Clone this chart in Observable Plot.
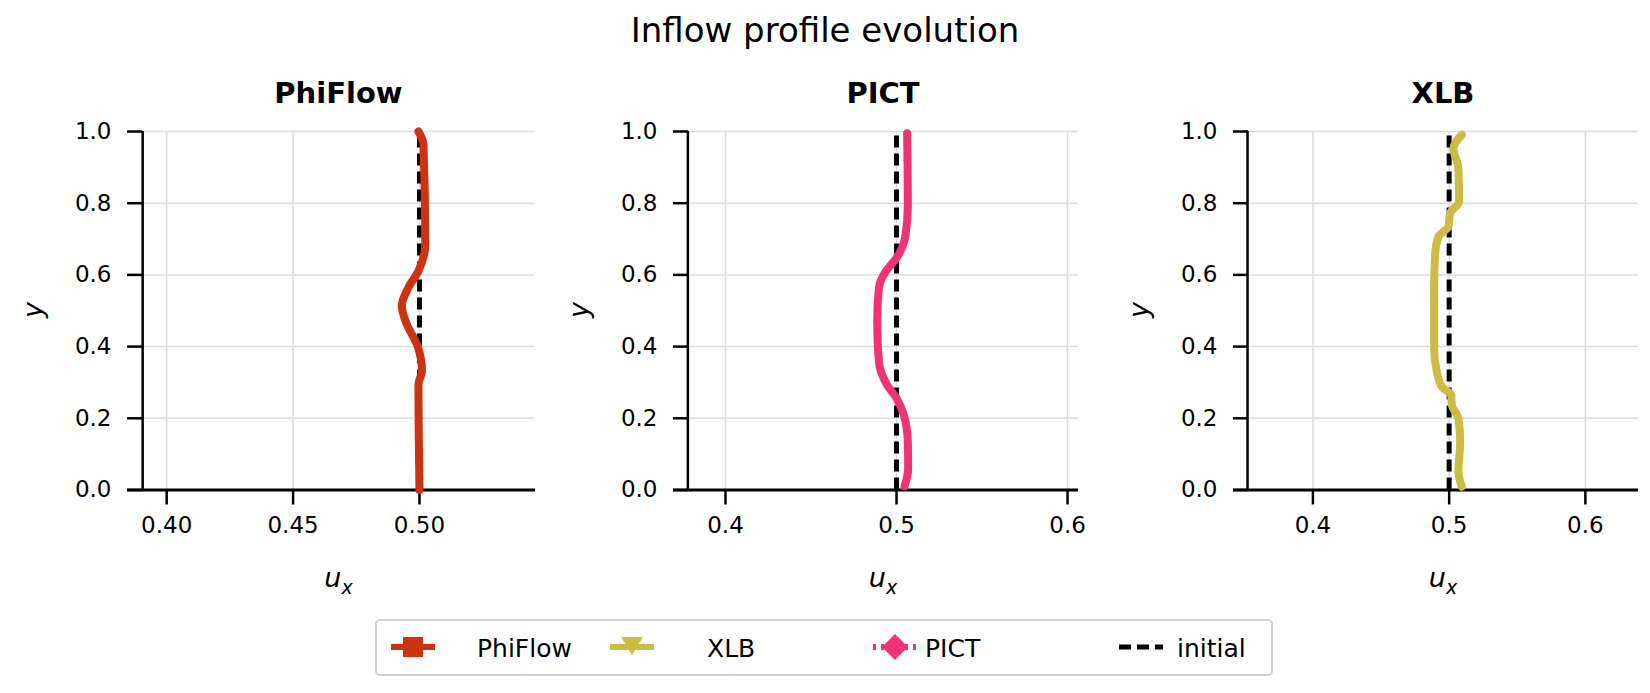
<!DOCTYPE html>
<html><head><meta charset="utf-8">
<script src="https://cdn.jsdelivr.net/npm/d3@7"></script>
<script src="https://cdn.jsdelivr.net/npm/@observablehq/plot@0.6"></script>
<style>
body{margin:0;background:#fff;font-family:"DejaVu Sans",sans-serif;}
#c{position:relative;width:1650px;height:693px;overflow:hidden;}
#c svg text{font-size:23px !important;font-family:"DejaVu Sans",sans-serif;}
.abs{position:absolute;white-space:nowrap;}
.t{font-size:34px;transform:translate(-50%,-50%);}
.st{font-size:29px;font-weight:bold;transform:translate(-50%,-50%);}
.xl{font-size:27px;font-style:italic;transform:translate(-50%,-50%);}
.yl{font-size:27px;font-style:italic;transform:translate(-50%,-50%) rotate(-90deg);}
#leg{position:absolute;left:375px;top:619px;width:894px;height:53px;border:2px solid #d0d0d0;border-radius:5px;font-size:25px;}
#leg span{position:absolute;top:50%;transform:translateY(-50%);}
#leg svg{position:absolute;top:0;}
</style></head><body><div id="c"></div>
<script>
const phiY=[1.0,0.964,0.685,0.611,0.564,0.513,0.462,0.406,0.332,0.295,0.0];
const phiX=[0.4996,0.5016,0.5023,0.4996,0.4956,0.4930,0.4950,0.4990,0.5010,0.4996,0.5000];
const pictY=[0.995,0.795,0.712,0.647,0.609,0.563,0.47,0.358,0.293,0.256,0.209,0.135,0.06,0.01];
const pictX=[0.5062,0.5066,0.5053,0.5,0.4936,0.4897,0.4887,0.4897,0.4945,0.5,0.5043,0.5066,0.5068,0.5047];
const xlbY=[0.991,0.953,0.898,0.805,0.772,0.735,0.707,0.656,0.563,0.395,0.33,0.288,0.265,0.237,0.2,0.135,0.051,0.009];
const xlbX=[0.5093,0.5032,0.5068,0.5073,0.5007,0.4995,0.4922,0.4897,0.489,0.489,0.491,0.4946,0.5015,0.502,0.5068,0.5081,0.5068,0.5093];
const initialX=0.5;
const yTicks=[0,0.2,0.4,0.6,0.8,1.0];
const panels=[
 {name:"PhiFlow",xs:phiX,ys:phiY,color:"#cc3311",dom:[0.3845,0.5459],axisAt:0.3905,ticks:[0.40,0.45,0.50],fmt:d3.format(".2f"),left:127,right:535},
 {name:"PICT",xs:pictX,ys:pictY,color:"#ee3377",dom:[0.3696,0.6064],axisAt:0.378,ticks:[0.4,0.5,0.6],fmt:d3.format(".1f"),left:673,right:1078},
 {name:"XLB",xs:xlbX,ys:xlbY,color:"#ccbb44",dom:[0.3417,0.639],axisAt:0.352,ticks:[0.4,0.5,0.6],fmt:d3.format(".1f"),left:1233,right:1638}
];
const C=document.getElementById("c");
function addText(cls,txt,x,y,html){const d=document.createElement("div");d.className="abs "+cls;d.style.left=x+"px";d.style.top=y+"px";if(html)d.innerHTML=txt;else d.textContent=txt;C.appendChild(d);}
const top0=130.5,h0=358.5,mL=100,mT=10,mB=70,mR=10;
panels.forEach(p=>{
  const data=p.xs.map((x,i)=>({x,y:p.ys[i]}));
  const w=p.right-p.left;
  const chart=Plot.plot({
    width:w+mL+mR,height:h0+mT+mB,marginLeft:mL,marginRight:mR,marginTop:mT,marginBottom:mB,
    style:{fontFamily:"DejaVu Sans",fontSize:"23px",color:"#000",background:"transparent",overflow:"visible"},
    x:{domain:p.dom},y:{domain:[0,1]},
    marks:[
      Plot.gridX(p.ticks,{stroke:"#dcdcdc",strokeOpacity:1,strokeWidth:1.5}),
      Plot.gridY(yTicks,{stroke:"#dcdcdc",strokeOpacity:1,strokeWidth:1.5,x1:p.axisAt,x2:p.dom[1]}),
      Plot.axisX(p.ticks,{tickSize:15,tickPadding:12,tickFormat:p.fmt,strokeWidth:2.5,label:null}),
      Plot.axisY(yTicks,{tickSize:15,tickPadding:16,dx:15,tickFormat:d3.format(".1f"),strokeWidth:2.5,label:null}),
      Plot.ruleX([p.axisAt],{y1:0,y2:1,strokeWidth:2.5}),
      Plot.ruleY([0],{strokeWidth:3}),
      Plot.ruleX([initialX],{y1:0,y2:1,stroke:"#000",strokeWidth:5,strokeDasharray:"12,6"}),
      Plot.line(data,{x:"x",y:"y",stroke:p.color,strokeWidth:8,curve:"monotone-y"})
    ]
  });
  chart.style.position="absolute";chart.style.left=(p.left-mL)+"px";chart.style.top=(top0-mT)+"px";
  C.appendChild(chart);
  const cx=(p.left+15+p.right)/2;
  addText("st",p.name,cx,93);
  addText("xl","u<sub style='font-size:19px'>x</sub>",cx,580,true);
  addText("yl","y",p.left-95,310);
});
addText("t","Inflow profile evolution",825,30);
const leg=document.createElement("div");leg.id="leg";
leg.innerHTML=`
<svg width="894" height="53">
 <line x1="14" y1="26" x2="58" y2="26" stroke="#cc3311" stroke-width="6"/>
 <rect x="26" y="16" width="20" height="20" fill="#cc3311"/>
 <line x1="233" y1="26" x2="277" y2="26" stroke="#ccbb44" stroke-width="6"/>
 <polygon points="244,16 266,16 255,34" fill="#ccbb44"/>
 <line x1="496" y1="26" x2="540" y2="26" stroke="#ee3377" stroke-width="6" stroke-dasharray="3,5"/>
 <polygon points="518,13 531,26 518,39 505,26" fill="#ee3377"/>
 <line x1="742" y1="26" x2="786" y2="26" stroke="#000" stroke-width="5" stroke-dasharray="12,6"/>
</svg>
<span style="left:100px">PhiFlow</span>
<span style="left:330px">XLB</span>
<span style="left:548px">PICT</span>
<span style="left:800px">initial</span>`;
C.appendChild(leg);
</script></body></html>
